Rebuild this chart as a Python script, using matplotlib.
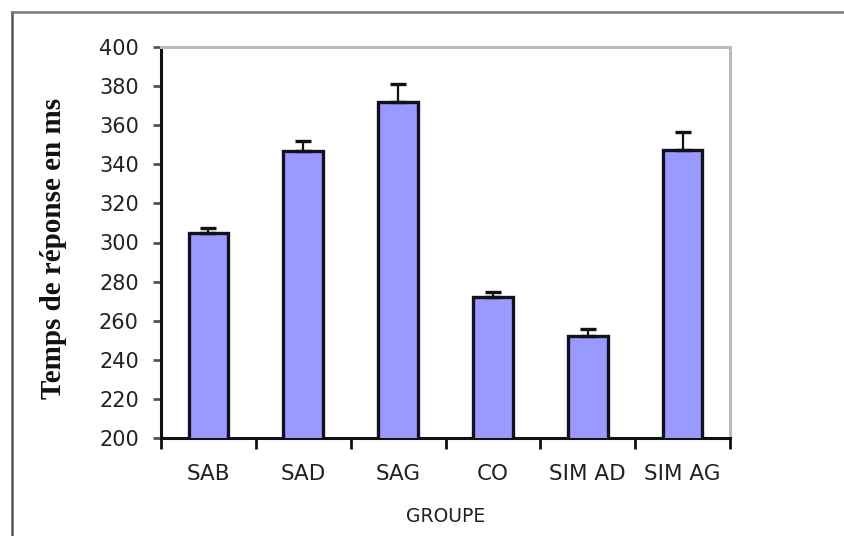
import matplotlib
matplotlib.use("Agg")
import matplotlib.pyplot as plt
from matplotlib.lines import Line2D
import numpy as np

categories = ["SAB", "SAD", "SAG", "CO", "SIM AD", "SIM AG"]
means = [305, 347, 372, 272, 252, 347.5]
errors = [2.5, 5, 9, 2.7, 4, 9]
yticks = [200, 220, 240, 260, 280, 300, 320, 340, 360, 380, 400]

fig = plt.figure(figsize=(8.45, 5.36), dpi=100)
ax = fig.add_axes([161/845, 1-438/536, (730-161)/845, (438-47)/536])

x = np.arange(len(categories))
ax.bar(x, means, width=0.42, color="#9999ff", edgecolor="#111122", linewidth=2.4,
       yerr=[np.zeros(len(errors)), errors],
       error_kw=dict(ecolor="#111111", elinewidth=1.6, capsize=6, capthick=2.4),
       zorder=3)

ax.set_xlim(-0.5, len(categories)-0.5)
ax.set_ylim(200, 400)
ax.set_yticks(yticks)
ax.set_yticklabels([str(v) for v in yticks])
ax.set_xticks(x)
ax.set_xticklabels(categories)
ax.set_xticks(np.arange(-0.5, len(categories)), minor=True)

ax.tick_params(axis="x", which="major", length=0, pad=19, labelsize=15.5, labelcolor="#222222")
ax.tick_params(axis="x", which="minor", length=8, width=2, color="#111111", direction="out")
ax.tick_params(axis="y", which="major", length=6, width=2, color="#555555", pad=10,
               labelsize=15, labelcolor="#222222")

for s in ["left", "bottom"]:
    ax.spines[s].set_color("#111111")
    ax.spines[s].set_linewidth(2.2)
for s in ["top", "right"]:
    ax.spines[s].set_color("#bbbbbb")
    ax.spines[s].set_linewidth(2.2)

ax.set_xlabel("GROUPE", fontsize=13.5, color="#222222", labelpad=16)
ax.set_ylabel("Temps de réponse en ms", fontsize=21, fontweight="bold",
              family="Liberation Serif", color="#111111")
ax.yaxis.set_label_coords(-0.165, 0.485)

# outer frame lines
fig.add_artist(Line2D([12/845, 12/845], [0, 1-12/536], color="#555555", lw=1.8,
                      transform=fig.transFigure))
fig.add_artist(Line2D([12/845, 1], [1-12/536, 1-12/536], color="#777777", lw=1.8,
                      transform=fig.transFigure))

fig.savefig("out.png", dpi=100)
